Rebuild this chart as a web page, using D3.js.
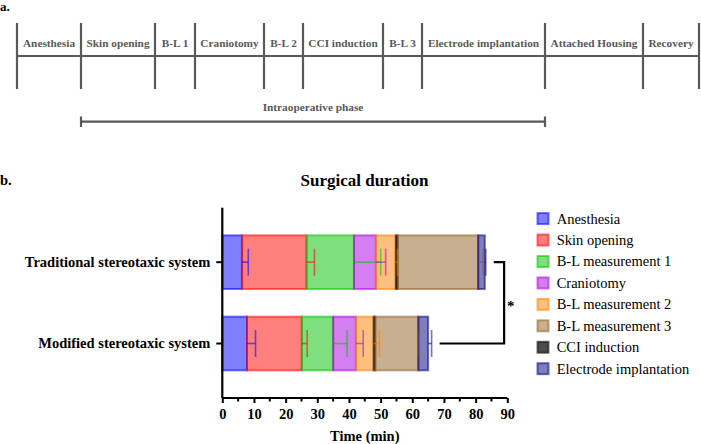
<!DOCTYPE html>
<html><head><meta charset="utf-8">
<script src="https://cdn.jsdelivr.net/npm/d3@7/dist/d3.min.js"></script>
<style>body{margin:0;background:#fff}svg{display:block}</style>
</head><body>
<svg id="c" width="701" height="444"></svg>
<script>
// ---------- DATA ----------
const timelineSteps = ["Anesthesia","Skin opening","B-L 1","Craniotomy","B-L 2","CCI induction","B-L 3","Electrode implantation","Attached Housing","Recovery"];
const timelineBounds = [0, 64, 138, 178, 247, 286, 366, 405, 528, 626, 682]; // schematic units
const phaseLabel = "Intraoperative phase";

const categories = ["Traditional stereotaxic system", "Modified stereotaxic system"];
const phases = ["Anesthesia","Skin opening","B-L measurement 1","Craniotomy","B-L measurement 2","CCI induction","B-L measurement 3","Electrode implantation"];
const legendOrder = ["Anesthesia","Skin opening","B-L measurement 1","Craniotomy","B-L measurement 2","B-L measurement 3","CCI induction","Electrode implantation"];
const traditionalMean = [6.2, 20.4, 15.0, 6.9, 6.3, 0.6, 25.4, 2.1];
const traditionalSD   = [2.0, 2.5, 8.4, 3.1, 0.5, 0.0, 1.6, 0.3];
const modifiedMean    = [7.8, 17.3, 9.9, 7.2, 5.6, 0.5, 13.6, 3.1];
const modifiedSD      = [2.7, 1.7, 4.4, 2.3, 1.8, 0.0, 0.3, 1.1];
const xTicks = [0,10,20,30,40,50,60,70,80,90];
const minorTicks = [5,15,25,35,45,55,65,75,85];
const baseColors = {"Anesthesia":"#0000ff","Skin opening":"#ff0000","B-L measurement 1":"#00c000","Craniotomy":"#aa00e0","B-L measurement 2":"#ff8000","B-L measurement 3":"#906020","CCI induction":"#000000","Electrode implantation":"#000080"};

// ---------- DRAW ----------
const svg = d3.select("#c");
svg.append("rect").attr("width",701).attr("height",444).attr("fill","#fff");
const serif = "'Liberation Serif','Times New Roman',serif";
const gray = "#595959";

// Panel a
const tx = d3.scaleLinear().domain([0, 682]).range([17, 699]);
svg.append("text").attr("x",0).attr("y",11).attr("font-family",serif).attr("font-weight","bold")
  .attr("font-size",13).text("a.");
const ga = svg.append("g");
ga.append("line").attr("x1",tx(0)).attr("x2",tx(682)).attr("y1",56).attr("y2",56)
  .attr("stroke",gray).attr("stroke-width",2.2);
ga.selectAll("line.tk").data(timelineBounds).join("line").attr("class","tk")
  .attr("x1",d=>tx(d)).attr("x2",d=>tx(d)).attr("y1",23).attr("y2",89)
  .attr("stroke",gray).attr("stroke-width",2.2);
ga.selectAll("text.st").data(timelineSteps).join("text").attr("class","st")
  .attr("x",(d,i)=>(tx(timelineBounds[i])+tx(timelineBounds[i+1]))/2).attr("y",47)
  .attr("text-anchor","middle").attr("font-family",serif).attr("font-weight","bold")
  .attr("font-size",11.3).attr("fill",gray).text(d=>d);
const p0 = tx(timelineBounds[1]), p1 = tx(timelineBounds[8]);
ga.append("text").attr("x",(p0+p1)/2).attr("y",111).attr("text-anchor","middle")
  .attr("font-family",serif).attr("font-weight","bold").attr("font-size",11.3).attr("fill",gray).text(phaseLabel);
ga.append("line").attr("x1",p0).attr("x2",p1).attr("y1",121.7).attr("y2",121.7).attr("stroke",gray).attr("stroke-width",2.2);
[p0,p1].forEach(p=>ga.append("line").attr("x1",p).attr("x2",p).attr("y1",116.5).attr("y2",127).attr("stroke",gray).attr("stroke-width",2.2));

// Panel b
svg.append("text").attr("x",0).attr("y",185).attr("font-family",serif).attr("font-weight","bold")
  .attr("font-size",14.5).text("b.");
const x = d3.scaleLinear().domain([0,90]).range([222.3,507.3]);
const y = d3.scaleBand().domain(categories).range([207.7,398]).padding(0.34);
svg.append("text").attr("x",364.5).attr("y",186).attr("text-anchor","middle")
  .attr("font-family",serif).attr("font-weight","bold").attr("font-size",17).text("Surgical duration");

const means = [traditionalMean, modifiedMean];
const sds = [traditionalSD, modifiedSD];
const gb = svg.append("g");
categories.forEach((cat,ci)=>{
  let cum = 0;
  const segs = phases.map((p,pi)=>{ const s = {p, start:cum, end:cum+means[ci][pi], sd:sds[ci][pi]}; cum += means[ci][pi]; return s; });
  gb.selectAll(null).data(segs).join("rect")
    .attr("x",d=>x(d.start)).attr("width",d=>x(d.end)-x(d.start))
    .attr("y",y(cat)).attr("height",y.bandwidth())
    .attr("fill",d=>baseColors[d.p]).attr("fill-opacity",d=>d.p==="CCI induction"?0.7:0.5)
    .attr("stroke",d=>baseColors[d.p]).attr("stroke-opacity",0.55).attr("stroke-width",2);
  const cy = y(cat)+y.bandwidth()/2;
  const eb = segs.filter(d=>d.sd>0);
  gb.selectAll(null).data(eb).join("line")
    .attr("x1",d=>x(d.end)).attr("x2",d=>x(d.end+d.sd)).attr("y1",cy).attr("y2",cy)
    .attr("stroke",d=>baseColors[d.p]).attr("stroke-opacity",0.55).attr("stroke-width",1.6);
  gb.selectAll(null).data(eb).join("line")
    .attr("x1",d=>x(d.end+d.sd)).attr("x2",d=>x(d.end+d.sd)).attr("y1",cy-13.5).attr("y2",cy+13.5)
    .attr("stroke",d=>baseColors[d.p]).attr("stroke-opacity",0.55).attr("stroke-width",1.6);
});

// axes
const xa = svg.append("g").attr("transform","translate(0,398)")
  .call(d3.axisBottom(x).tickValues(xTicks).tickSize(5).tickPadding(6).tickFormat(d3.format("d")));
xa.selectAll(null).data(minorTicks).join("line").attr("x1",d=>x(d)).attr("x2",d=>x(d)).attr("y1",0).attr("y2",3.5)
  .attr("stroke","#000").attr("stroke-width",2);
const ya = svg.append("g").attr("transform","translate(222.3,0)")
  .call(d3.axisLeft(y).tickSize(6).tickPadding(6));
[xa,ya].forEach(a=>{
  a.select(".domain").attr("stroke","#000").attr("stroke-width",2.2);
  a.selectAll(".tick line").attr("stroke","#000").attr("stroke-width",2);
  a.selectAll("text").attr("font-family",serif).attr("font-weight","bold").attr("font-size",14.5).attr("fill","#000");
});
xa.select(".domain").attr("d","M"+x(0)+",0H"+x(90));
ya.select(".domain").attr("d","M0,207.7V398");
svg.append("text").attr("x",x(45)).attr("y",441).attr("text-anchor","middle")
  .attr("font-family",serif).attr("font-weight","bold").attr("font-size",14.5).text("Time (min)");

// significance bracket
const totals = means.map(m=>d3.sum(m));
const lastSd = sds.map(s=>s[s.length-1]);
const bx = x(89);
const yT = y(categories[0])+y.bandwidth()/2, yM = y(categories[1])+y.bandwidth()/2;
svg.append("path").attr("d",`M${x(totals[0]+lastSd[0])+8},${yT}H${bx}V${yM}H${x(totals[1]+lastSd[1])+8}`)
  .attr("fill","none").attr("stroke","#000").attr("stroke-width",2.2);
svg.append("text").attr("x",bx+6.5).attr("y",(yT+yM)/2+8).attr("text-anchor","middle")
  .attr("font-family",serif).attr("font-weight","bold").attr("font-size",15).text("*");

// legend
const lg = svg.append("g");
const ly = d3.scalePoint().domain(legendOrder).range([218.6,368.7]);
lg.selectAll(null).data(legendOrder).join("rect")
  .attr("x",537.5).attr("y",d=>ly(d)-5.5).attr("width",11).attr("height",11)
  .attr("fill",d=>baseColors[d]).attr("fill-opacity",d=>d==="CCI induction"?0.7:0.5)
  .attr("stroke",d=>baseColors[d]).attr("stroke-opacity",0.55).attr("stroke-width",2);
lg.selectAll(null).data(legendOrder).join("text")
  .attr("x",556.7).attr("y",d=>ly(d)+5).attr("font-family",serif).attr("font-size",14.5).text(d=>d);
</script>
</body></html>
